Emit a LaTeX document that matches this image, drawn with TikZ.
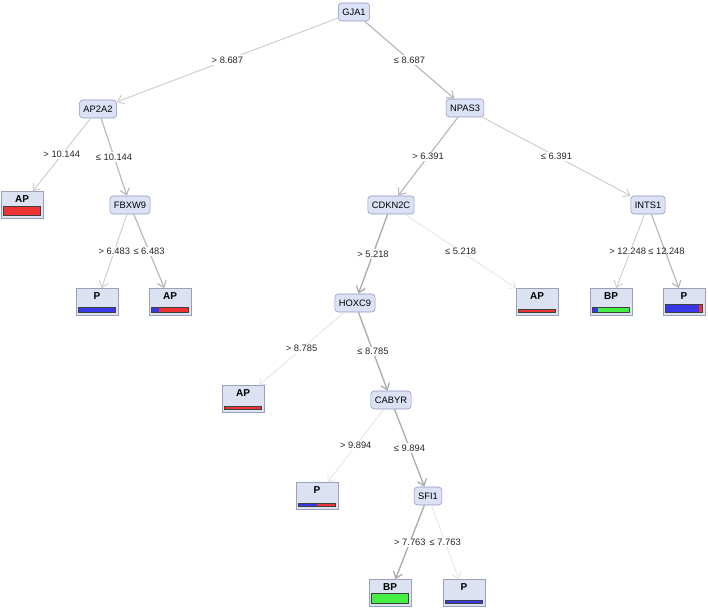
\documentclass[tikz,border=0pt]{standalone}
\usepackage{fontspec}
\setmainfont{Liberation Sans}
\usepackage{tikz}
\usetikzlibrary{arrows.meta,calc}

\definecolor{nodefill}{HTML}{DCE1F5}
\definecolor{nodedraw}{HTML}{8C96BE}
\definecolor{leaffill}{HTML}{DDE2F2}
\definecolor{leafdraw}{HTML}{9AA0B8}
\definecolor{apred}{HTML}{EE3333}
\definecolor{pblue}{HTML}{3838E8}
\definecolor{bpgreen}{HTML}{44EE44}

% class bar at the foot of a leaf: node, height, share of first colour, colours
\newcommand{\leafbar}[5]{%
 \fill[#4] ($(#1.south west)+(3,-3)$) rectangle ($(#1.south west)+({3+36*#3},{-3-#2})$);
 \fill[#5] ($(#1.south west)+({3+36*#3},-3)$) rectangle ($(#1.south east)+(-3,{-3-#2})$);
 \draw[black!75,line width=0.5pt] ($(#1.south west)+(3,-3)$) rectangle ($(#1.south east)+(-3,{-3-#2})$);}

\begin{document}
\begin{tikzpicture}[x=0.75pt,y=-0.75pt,>={Straight Barb[length=4.5pt,width=7pt]},
 split/.style={draw=nodedraw,fill=nodefill,rounded corners=2.5pt,minimum height=13.5pt,inner xsep=3pt,inner ysep=0pt,font=\fontsize{7}{8}\selectfont},
 leaf/.style={draw=leafdraw,fill=leaffill,minimum width=31.5pt,minimum height=20.25pt,inner sep=0pt,text height=5.5pt,text depth=9.3pt,font=\fontsize{7.5}{8}\selectfont\bfseries},
 cut/.style={fill=white,inner sep=1pt,font=\fontsize{7}{8}\selectfont,text=black!85},
 e1/.style={->,draw=gray!22,line width=0.6pt},
 e2/.style={->,draw=gray!40,line width=0.7pt},
 e3/.style={->,draw=gray!55,line width=0.9pt},
 e4/.style={->,draw=gray!65,line width=1pt}]
 \useasboundingbox (0,0) rectangle (708,609);
 \node[split] (gja1) at (354,12) {GJA1};
 \node[split] (ap2a2) at (98,109) {AP2A2};
 \node[split] (npas3) at (465,108) {NPAS3};
 \node[leaf] (ap1) at (22,205) {AP};
 \node[split] (fbxw9) at (130,205) {FBXW9};
 \node[split] (cdkn2c) at (391,205) {CDKN2C};
 \node[split] (ints1) at (648,205) {INTS1};
 \node[leaf] (p1) at (97,302) {P};
 \node[leaf] (ap2) at (170,302) {AP};
 \node[split] (hoxc9) at (355,303) {HOXC9};
 \node[leaf] (ap3) at (537,302) {AP};
 \node[leaf] (bp1) at (611,302) {BP};
 \node[leaf] (p2) at (684,302) {P};
 \node[leaf] (ap4) at (243,399) {AP};
 \node[split] (cabyr) at (391,400) {CABYR};
 \node[leaf] (p3) at (317,496) {P};
 \node[split] (sfi1) at (428,496) {SFI1};
 \node[leaf] (bp2) at (390,593) {BP};
 \node[leaf] (p4) at (464,593) {P};
 \draw[e2] (gja1)--(ap2a2) node[cut,midway]{> 8.687};
 \draw[e3] (gja1)--(npas3) node[cut,midway]{≤ 8.687};
 \draw[e2] (ap2a2)--(ap1) node[cut,midway]{> 10.144};
 \draw[e3] (ap2a2)--(fbxw9) node[cut,midway]{≤ 10.144};
 \draw[e2] (fbxw9)--(p1) node[cut,midway]{> 6.483};
 \draw[e3] (fbxw9)--(ap2) node[cut,midway]{≤ 6.483};
 \draw[e3] (npas3)--(cdkn2c) node[cut,midway]{> 6.391};
 \draw[e2] (npas3)--(ints1) node[cut,midway]{≤ 6.391};
 \draw[e4] (cdkn2c)--(hoxc9) node[cut,midway]{> 5.218};
 \draw[e1] (cdkn2c)--(ap3) node[cut,midway]{≤ 5.218};
 \draw[e2] (ints1)--(bp1) node[cut,midway,xshift=-2pt]{> 12.248};
 \draw[e3] (ints1)--(p2) node[cut,midway,fill=none,xshift=1pt]{≤ 12.248};
 \draw[e1] (hoxc9)--(ap4) node[cut,midway]{> 8.785};
 \draw[e4] (hoxc9)--(cabyr) node[cut,midway]{≤ 8.785};
 \draw[e1] (cabyr)--(p3) node[cut,midway]{> 9.894};
 \draw[e4] (cabyr)--(sfi1) node[cut,midway]{≤ 9.894};
 \draw[e4] (sfi1)--(bp2) node[cut,midway]{> 7.763};
 \draw[e1] (sfi1)--(p4) node[cut,midway]{≤ 7.763};
 % class distributions
 \leafbar{ap1}{9}{1}{apred}{apred}
 \leafbar{p1}{5}{1}{pblue}{pblue}
 \leafbar{ap2}{5}{0.2}{pblue}{apred}
 \leafbar{ap3}{3}{1}{apred}{apred}
 \leafbar{bp1}{5}{0.15}{pblue}{bpgreen}
 \leafbar{p2}{8}{0.92}{pblue}{apred}
 \leafbar{ap4}{3}{1}{apred}{apred}
 \leafbar{p3}{3}{0.5}{pblue}{apred}
 \leafbar{bp2}{10}{1}{bpgreen}{bpgreen}
 \leafbar{p4}{3}{1}{pblue}{pblue}
\end{tikzpicture}
\end{document}
